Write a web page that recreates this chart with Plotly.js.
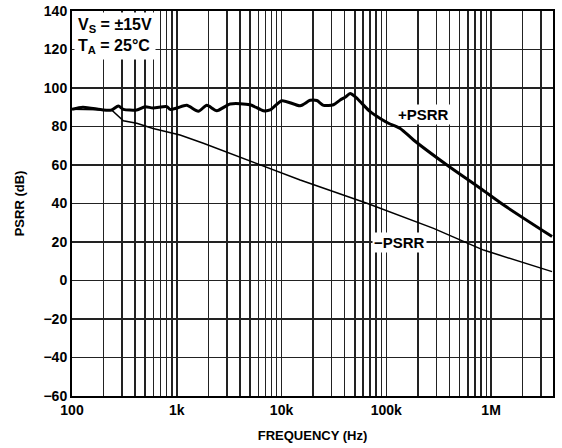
<!DOCTYPE html>
<html><head><meta charset="utf-8">
<script src="https://cdn.plot.ly/plotly-3.0.1.min.js"></script>
<style>html,body{margin:0;padding:0;background:#fff}#chart{width:562px;height:448px}</style>
</head><body><div id="chart"></div>
<script>
const posFreq = [100,127,198,239,277,309,415,498,594,802,863,1000,1245,1607,1935,2411,3228,5015,6717,7780,10070,15060,18760,21740,25140,31320,36300,40470,45190,50450,58420,70200,87440,105000,135800,182000,379000,789000,1318000,3820000];
const posPSRR = [88.9,90,88.6,88.6,90.6,88.9,88.6,90.3,89.6,90.3,88.9,89.6,91,87.9,91,88.2,91.7,91.3,88.2,88.6,93.4,90.8,93.6,93.5,91,91.3,93.8,95.2,97.2,95.5,92,87.7,84.2,81.7,79,73,60,47.9,39.2,22.8];
const negFreq = [100,198,239,309,415,594,863,1075,1794,4663,15060,65250,87440,282600,847000,3820000];
const negPSRR = [88.9,88.6,88.6,83,81.7,79,77,75.6,71.3,62.6,52.2,40.1,37.5,27.1,15.8,4.6];
const xTickVals = [];
const xTickText = [];
const decadeLabels = {100:'100',1000:'1k',10000:'10k',100000:'100k',1000000:'1M'};
[100,1000,10000,100000,1000000].forEach(d => { for (let m=1;m<=9;m++){ const v=d*m; if (v<=4000000){ xTickVals.push(v); xTickText.push(m===1?decadeLabels[d]:''); } } });
const yTickVals = [-60,-40,-20,0,20,40,60,80,100,120,140];
const yTickText = ['\u221260','\u221240','\u221220','0','20','40','60','80','100','120','140'];

const FONT = 'Liberation Sans, Arial, sans-serif';
const traces = [
  {x: negFreq, y: negPSRR, type:'scatter', mode:'lines', line:{color:'#000', width:1.5}, hoverinfo:'skip'},
  {x: posFreq, y: posPSRR, type:'scatter', mode:'lines', line:{color:'#000', width:3, shape:'spline', smoothing:0.7}, hoverinfo:'skip'}
];
const layout = {
  width:562, height:448,
  margin:{l:72, r:9, t:11, b:52},
  paper_bgcolor:'#fff', plot_bgcolor:'#fff',
  showlegend:false,
  font:{family:FONT, size:14, color:'#000', weight:'bold'},
  xaxis:{type:'log', range:[2, Math.log10(3900000)], tickmode:'array', tickvals:xTickVals, ticktext:xTickText,
    showgrid:true, gridcolor:'#222', gridwidth:1.5, zeroline:false, showline:true, linecolor:'#000', linewidth:2, mirror:true,
    ticks:'', tickfont:{family:FONT, size:14, color:'#000', weight:'bold'},
    title:{text:'FREQUENCY (Hz)', font:{family:FONT, size:13, color:'#000', weight:'bold'}, standoff:14}},
  yaxis:{range:[-60,140], tickmode:'array', tickvals:yTickVals, ticktext:yTickText,
    showgrid:true, gridcolor:'#222', gridwidth:1.5, zeroline:false, showline:true, linecolor:'#000', linewidth:2, mirror:true,
    ticks:'', tickfont:{family:FONT, size:14, color:'#000', weight:'bold'},
    title:{text:'PSRR (dB)', font:{family:FONT, size:13, color:'#000', weight:'bold'}, standoff:16}},
  annotations:[
    {xref:'paper', yref:'paper', x:0.004, y:0.997, xanchor:'left', yanchor:'top', align:'left', showarrow:false,
     text:'V<sub>S</sub> = \u00b115V<br>T<sub>A</sub> = 25\u00b0C', bgcolor:'#fff', borderpad:3,
     font:{family:FONT, size:16, color:'#000', weight:'bold'}},
    {xref:'x', yref:'y', x:Math.log10(225000), y:86, showarrow:false, text:'+PSRR', bgcolor:'#fff', borderpad:1,
     font:{family:FONT, size:15, color:'#000', weight:'bold'}},
    {xref:'x', yref:'y', x:Math.log10(133000), y:20, showarrow:false, text:'\u2212PSRR', bgcolor:'#fff', borderpad:1,
     font:{family:FONT, size:15, color:'#000', weight:'bold'}}
  ]
};
Plotly.newPlot('chart', traces, layout, {staticPlot:true});
</script></body></html>
